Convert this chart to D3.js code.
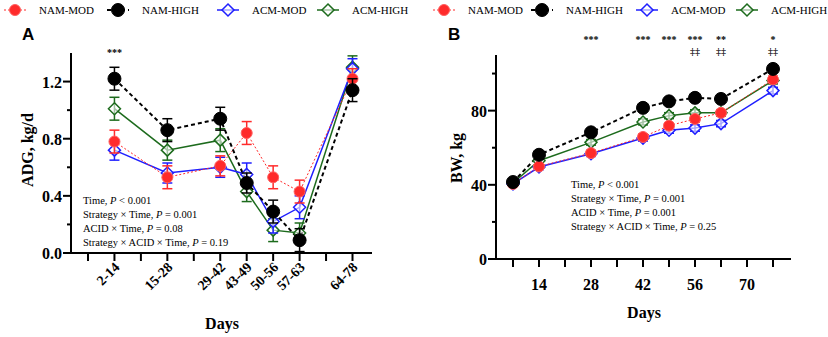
<!DOCTYPE html>
<html>
<head>
<meta charset="utf-8">
<script src="https://cdn.jsdelivr.net/npm/d3@7"></script>
<style>
  body { margin: 0; background: #fff; }
  svg { display: block; }
</style>
</head>
<body>
<div id="chart"></div>
<script>
// ---- data ----
const seriesNames = ["NAM-MOD", "NAM-HIGH", "ACM-MOD", "ACM-HIGH"];

const adgPeriods = ["2-14", "15-28", "29-42", "43-49", "50-56", "57-63", "64-78"];
const adgDays = [7, 21, 35, 42, 49, 56, 70];
const adgNamMod = [0.78, 0.53, 0.61, 0.84, 0.53, 0.43, 1.22];
const adgNamHigh = [1.22, 0.86, 0.94, 0.49, 0.29, 0.09, 1.14];
const adgAcmMod = [0.72, 0.56, 0.60, 0.55, 0.22, 0.32, 1.29];
const adgAcmHigh = [1.01, 0.72, 0.79, 0.43, 0.16, 0.14, 1.30];
const adgNamModSe = [0.08, 0.08, 0.07, 0.08, 0.08, 0.08, 0.07];
const adgNamHighSe = [0.08, 0.08, 0.08, 0.07, 0.08, 0.08, 0.08];
const adgAcmModSe = [0.07, 0.07, 0.07, 0.08, 0.08, 0.08, 0.07];
const adgAcmHighSe = [0.08, 0.07, 0.08, 0.07, 0.08, 0.07, 0.08];
const adgYTicks = [0, 0.2, 0.4, 0.6, 0.8, 1.0, 1.2];
const adgYLabels = [0, 0.4, 0.8, 1.2];
const adgXTicks = [0, 7, 14, 21, 28, 35, 42, 49, 56, 63, 70];
const adgSig = [{ day: 7, top: "***", bottom: "" }];
const adgStats = ["Time, |P| < 0.001", "Strategy × Time, |P| = 0.001", "ACID × Time, |P| = 0.08", "Strategy × ACID × Time, |P| = 0.19"];

const bwDays = [7, 14, 28, 42, 49, 56, 63, 77];
const bwNamMod = [40.5, 49.9, 57.1, 65.8, 71.9, 75.5, 78.8, 96.8];
const bwNamHigh = [41.5, 56.2, 68.3, 81.5, 85.0, 86.9, 86.3, 102.5];
const bwAcmMod = [40.5, 49.6, 56.8, 65.2, 69.4, 70.6, 73.0, 90.8];
const bwAcmHigh = [41.0, 53.0, 62.9, 73.9, 77.3, 78.8, 78.8, 96.2];
const bwSe = [1.2, 1.4, 1.5, 1.6, 1.6, 1.7, 1.7, 1.8];
const bwYTicks = [0, 20, 40, 60, 80, 100];
const bwYLabels = [0, 40, 80];
const bwXTicks = [7, 14, 21, 28, 35, 42, 49, 56, 63, 70, 77];
const bwXLabels = [14, 28, 42, 56, 70];
const bwSig = [
  { day: 28, top: "***", bottom: "" },
  { day: 42, top: "***", bottom: "" },
  { day: 49, top: "***", bottom: "" },
  { day: 56, top: "***", bottom: "‡‡" },
  { day: 63, top: "**", bottom: "‡‡" },
  { day: 77, top: "*", bottom: "‡‡" }
];
const bwStats = ["Time, |P| < 0.001", "Strategy × Time, |P| = 0.001", "ACID × Time, |P| = 0.001", "Strategy × ACID × Time, |P| = 0.25"];

// ---- styles ----
const styles = {
  "NAM-MOD":  { color: "#ff2b2b", dash: "2,2", width: 1, marker: "circle", r: 5.5 },
  "NAM-HIGH": { color: "#000000", dash: "4,3", width: 2, marker: "circle", r: 6.5 },
  "ACM-MOD":  { color: "#1f1fff", dash: null, width: 1.5, marker: "diamond", r: 6 },
  "ACM-HIGH": { color: "#1d6b1d", dash: null, width: 1.5, marker: "diamond", r: 6 }
};
const drawOrder = ["ACM-HIGH", "ACM-MOD", "NAM-MOD", "NAM-HIGH"];
const serif = "'Liberation Serif', 'Times New Roman', serif";

const svg = d3.select("#chart").append("svg")
  .attr("width", 828).attr("height", 337);

function marker(g, name, x, y) {
  const s = styles[name];
  if (s.marker === "circle") {
    g.append("circle").attr("cx", x).attr("cy", y).attr("r", s.r)
      .attr("fill", s.color)
      .attr("stroke", name === "NAM-MOD" ? "#ff6060" : s.color)
      .attr("stroke-width", 1);
  } else {
    const r = s.r;
    g.append("path")
      .attr("d", `M${x},${y - r}L${x + r},${y}L${x},${y + r}L${x - r},${y}Z`)
      .attr("fill", "#fff").attr("fill-opacity", 0.6)
      .attr("stroke", s.color).attr("stroke-width", 1.5);
  }
}

function legend(x0, positions) {
  const g = svg.append("g");
  seriesNames.forEach((name, i) => {
    const s = styles[name];
    const cx = x0 + positions[i];
    g.append("line").attr("x1", cx - 11).attr("x2", cx + 11)
      .attr("y1", 10).attr("y2", 10)
      .attr("stroke", s.color).attr("stroke-width", s.width)
      .attr("stroke-dasharray", s.dash);
    marker(g, name, cx, 10);
    g.append("text").attr("x", cx + 24).attr("y", 14)
      .style("font-family", serif).style("font-size", "11px")
      .text(name);
  });
}

function statsText(g, lines, x, y) {
  lines.forEach((line, i) => {
    const parts = line.split("|");
    const t = g.append("text").attr("x", x).attr("y", y + i * 14)
      .style("font-family", serif).style("font-size", "10.5px");
    t.append("tspan").text(parts[0]);
    t.append("tspan").style("font-style", "italic").text(parts[1]);
    t.append("tspan").text(parts[2]);
  });
}

function drawPanel(cfg) {
  const g = svg.append("g");
  const x = d3.scaleLinear().domain(cfg.xDomain).range(cfg.xRange);
  const y = d3.scaleLinear().domain(cfg.yDomain).range(cfg.yRange);

  // axes lines
  g.append("line").attr("x1", cfg.axisX).attr("x2", cfg.axisX)
    .attr("y1", y(cfg.yDomain[0])).attr("y2", y(cfg.yDomain[1]))
    .attr("stroke", "#000").attr("stroke-width", 2);
  g.append("line").attr("x1", cfg.xLineStart).attr("x2", cfg.xLineEnd)
    .attr("y1", y(0)).attr("y2", y(0))
    .attr("stroke", "#000").attr("stroke-width", 2);

  // y ticks
  cfg.yTicks.forEach(v => {
    const major = cfg.yLabels.includes(v);
    g.append("line").attr("x1", cfg.axisX - (major ? 8 : 4)).attr("x2", cfg.axisX)
      .attr("y1", y(v)).attr("y2", y(v))
      .attr("stroke", "#000").attr("stroke-width", 2);
    if (major) {
      g.append("text").attr("x", cfg.axisX - 9).attr("y", y(v) + 6)
        .attr("text-anchor", "end")
        .style("font-family", serif).style("font-size", "16px").style("font-weight", "bold")
        .text(cfg.yFormat(v));
    }
  });

  // x ticks
  cfg.xTicks.forEach(v => {
    g.append("line").attr("x1", x(v)).attr("x2", x(v))
      .attr("y1", y(0)).attr("y2", y(0) + 8)
      .attr("stroke", "#000").attr("stroke-width", 2);
  });
  cfg.xLabels.forEach((lab, i) => {
    const xp = x(cfg.xLabelDays[i]);
    if (cfg.rotate) {
      g.append("text")
        .attr("transform", `translate(${xp + 6},${y(0) + 15}) rotate(-45)`)
        .attr("text-anchor", "end")
        .style("font-family", serif).style("font-size", "14px").style("font-weight", "bold")
        .text(lab);
    } else {
      g.append("text").attr("x", xp).attr("y", y(0) + 31)
        .attr("text-anchor", "middle")
        .style("font-family", serif).style("font-size", "16px").style("font-weight", "bold")
        .text(lab);
    }
  });

  // titles
  g.append("text").attr("x", cfg.xTitle[0]).attr("y", cfg.xTitle[1])
    .attr("text-anchor", "middle")
    .style("font-family", serif).style("font-size", "16px").style("font-weight", "bold")
    .text("Days");
  g.append("text")
    .attr("transform", `translate(${cfg.yTitle[0]},${cfg.yTitle[1]}) rotate(-90)`)
    .attr("text-anchor", "middle")
    .style("font-family", serif).style("font-size", "16px").style("font-weight", "bold")
    .text(cfg.yTitleText);
  g.append("text").attr("x", cfg.panelPos[0]).attr("y", cfg.panelPos[1])
    .style("font-family", "'Liberation Sans', Arial, sans-serif")
    .style("font-size", "17px").style("font-weight", "bold")
    .text(cfg.panel);

  statsText(g, cfg.stats, cfg.statsPos[0], cfg.statsPos[1]);

  // series
  const line = d3.line().x(d => x(d.day)).y(d => y(d.v));
  drawOrder.forEach(name => {
    const s = styles[name];
    const pts = cfg.days.map((d, i) => ({ day: d, v: cfg.values[name][i] }));
    g.append("path").datum(pts).attr("d", line)
      .attr("fill", "none").attr("stroke", s.color)
      .attr("stroke-width", s.width).attr("stroke-dasharray", s.dash);
  });
  drawOrder.forEach(name => {
    const s = styles[name];
    cfg.days.forEach((d, i) => {
      const v = cfg.values[name][i], se = cfg.se[name][i];
      const xp = x(d);
      const eb = g.append("g").attr("stroke", s.color).attr("stroke-width", 1.5);
      eb.append("line").attr("x1", xp).attr("x2", xp).attr("y1", y(v - se)).attr("y2", y(v + se));
      [v - se, v + se].forEach(e => {
        eb.append("line").attr("x1", xp - 5).attr("x2", xp + 5).attr("y1", y(e)).attr("y2", y(e));
      });
      marker(g, name, xp, y(v));
    });
  });

  // significance
  cfg.sig.forEach(sg => {
    g.append("text").attr("x", x(sg.day)).attr("y", cfg.sigY)
      .attr("text-anchor", "middle").attr("fill", "#000")
      .style("font-family", serif).style("font-size", "10px").style("font-weight", "bold")
      .text(sg.top);
    if (sg.bottom) {
      g.append("text").attr("x", x(sg.day)).attr("y", cfg.sigY + 12)
        .attr("text-anchor", "middle").attr("fill", "#000")
        .style("font-family", "'DejaVu Serif', serif").style("font-size", "10px")
        .text(sg.bottom);
    }
  });
}

legend(0, [15, 118, 228, 328]);
legend(414, [30, 128, 233, 333]);

drawPanel({
  panel: "A", panelPos: [22, 40],
  xDomain: [0, 70], xRange: [88, 352.5],
  yDomain: [0, 1.4], yRange: [253, 53],
  axisX: 71, xLineStart: 63, xLineEnd: 372,
  yTicks: adgYTicks, yLabels: adgYLabels, yFormat: d3.format(".1f"),
  xTicks: adgXTicks, xLabels: adgPeriods, xLabelDays: adgDays, rotate: true,
  xTitle: [222, 329], yTitle: [33, 150], yTitleText: "ADG, kg/d",
  stats: adgStats, statsPos: [83, 204],
  days: adgDays,
  values: { "NAM-MOD": adgNamMod, "NAM-HIGH": adgNamHigh, "ACM-MOD": adgAcmMod, "ACM-HIGH": adgAcmHigh },
  se: { "NAM-MOD": adgNamModSe, "NAM-HIGH": adgNamHighSe, "ACM-MOD": adgAcmModSe, "ACM-HIGH": adgAcmHighSe },
  sig: adgSig, sigY: 56
});

const bwSeAll = { "NAM-MOD": bwSe, "NAM-HIGH": bwSe, "ACM-MOD": bwSe, "ACM-HIGH": bwSe };
drawPanel({
  panel: "B", panelPos: [448, 40],
  xDomain: [7, 70], xRange: [513, 747],
  yDomain: [0, 110], yRange: [259, 55],
  axisX: 496, xLineStart: 488, xLineEnd: 791,
  yTicks: bwYTicks, yLabels: bwYLabels, yFormat: d3.format("d"),
  xTicks: bwXTicks, xLabels: bwXLabels, xLabelDays: bwXLabels, rotate: false,
  xTitle: [644, 318], yTitle: [462, 158], yTitleText: "BW, kg",
  stats: bwStats, statsPos: [571, 188],
  days: bwDays,
  values: { "NAM-MOD": bwNamMod, "NAM-HIGH": bwNamHigh, "ACM-MOD": bwAcmMod, "ACM-HIGH": bwAcmHigh },
  se: bwSeAll,
  sig: bwSig, sigY: 43
});
</script>
</body>
</html>
